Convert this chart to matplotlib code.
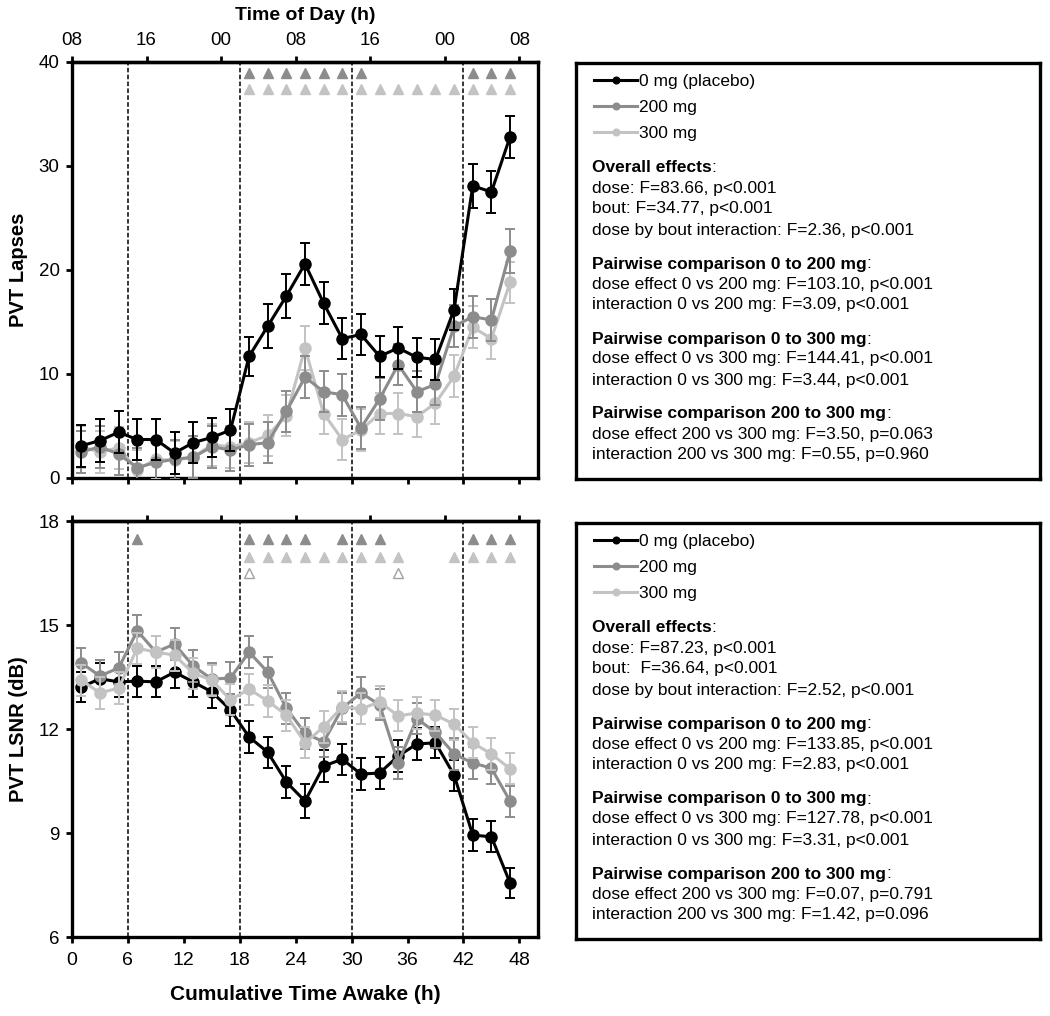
import numpy as np
import matplotlib
matplotlib.use('Agg')
import matplotlib.pyplot as plt

plt.rcParams['font.family'] = ['Liberation Sans', 'DejaVu Sans']

# cumulative hours awake (test bouts every 2 h)
hours = [1, 3, 5, 7, 9, 11, 13, 15, 17, 19, 21, 23, 25, 27, 29, 31, 33, 35, 37, 39, 41, 43, 45, 47]
dose_labels = ['0 mg (placebo)', '200 mg', '300 mg']

# PVT lapses (mean, SEM)
lapses_0 = [3.1, 3.6, 4.4, 3.7, 3.7, 2.4, 3.4, 3.9, 4.6, 11.7, 14.6, 17.5, 20.6, 16.8, 13.4, 13.8,
            11.7, 12.5, 11.6, 11.4, 16.2, 28.1, 27.5, 32.8]
lapses_200 = [2.5, 3.0, 2.3, 1.0, 1.5, 1.8, 2.0, 3.0, 2.7, 3.2, 3.4, 6.4, 9.7, 8.3, 8.0, 4.8,
              7.6, 10.9, 8.3, 9.0, 14.6, 15.5, 15.2, 21.8]
lapses_300 = [3.0, 2.5, 2.9, 0.8, 1.8, 1.7, 2.0, 3.2, 3.0, 3.4, 4.1, 6.0, 12.5, 6.2, 3.7, 4.6,
              6.2, 6.2, 5.9, 7.2, 9.8, 14.5, 13.4, 18.8]
lapses_0_sem = [2.0, 2.1, 2.0, 2.0, 2.0, 2.0, 2.0, 1.9, 2.0, 1.9, 2.1, 2.1, 2.0, 2.0, 2.0, 2.0,
                2.0, 2.0, 1.9, 2.0, 2.0, 2.1, 2.0, 2.0]
lapses_200_sem = [2.0, 2.0, 2.0, 1.9, 1.9, 1.9, 2.0, 2.0, 2.0, 2.0, 2.0, 2.0, 2.0, 2.0, 2.0, 2.0,
                  2.0, 2.0, 2.0, 2.0, 2.0, 2.0, 2.0, 2.1]
lapses_300_sem = [2.0, 2.0, 2.0, 1.9, 1.9, 1.9, 2.0, 2.0, 2.0, 2.0, 2.0, 2.0, 2.1, 2.0, 2.0, 2.0,
                  2.0, 2.0, 2.0, 2.0, 2.0, 2.0, 2.0, 2.0]

# PVT LSNR in dB (mean, SEM)
lsnr_0 = [13.21, 13.45, 13.36, 13.38, 13.36, 13.64, 13.36, 13.07, 12.55, 11.77, 11.33, 10.47,
          9.92, 10.93, 11.13, 10.70, 10.73, 11.22, 11.57, 11.60, 10.67, 8.94, 8.89, 7.56]
lsnr_200 = [13.90, 13.53, 13.76, 14.83, 14.22, 14.45, 13.82, 13.44, 13.47, 14.22, 13.64, 12.60,
            11.88, 11.63, 12.60, 13.04, 12.70, 11.02, 12.30, 11.90, 11.28, 11.02, 10.87, 9.92]
lsnr_300 = [13.41, 13.04, 13.18, 14.33, 14.22, 14.13, 13.61, 13.41, 12.84, 13.15, 12.81, 12.40,
            11.60, 12.06, 12.64, 12.58, 12.78, 12.38, 12.46, 12.40, 12.14, 11.60, 11.28, 10.85]
lsnr_0_sem = [0.42, 0.45, 0.45, 0.45, 0.45, 0.45, 0.45, 0.45, 0.45, 0.46, 0.45, 0.46,
              0.49, 0.45, 0.45, 0.45, 0.45, 0.45, 0.45, 0.45, 0.45, 0.46, 0.45, 0.43]
lsnr_200_sem = [0.45] * 24
lsnr_300_sem = [0.45] * 24

# significance markers (hours where pairwise comparison was significant)
sig_top_0v200 = [19, 21, 23, 25, 27, 29, 31, 43, 45, 47]
sig_top_0v300 = [19, 21, 23, 25, 27, 29, 31, 33, 35, 37, 39, 41, 43, 45, 47]
sig_bot_0v200 = [7, 19, 21, 23, 25, 29, 31, 33, 43, 45, 47]
sig_bot_0v300 = [19, 21, 23, 25, 27, 29, 31, 33, 35, 41, 43, 45, 47]
sig_bot_200v300 = [19, 35]

time_ticks = [0, 8, 16, 24, 32, 40, 48]
time_labels = ['08', '16', '00', '08', '16', '00', '08']

stats_top = [
    ('Overall effects', ['dose: F=83.66, p<0.001', 'bout: F=34.77, p<0.001',
                         'dose by bout interaction: F=2.36, p<0.001']),
    ('Pairwise comparison 0 to 200 mg', ['dose effect 0 vs 200 mg: F=103.10, p<0.001',
                                         'interaction 0 vs 200 mg: F=3.09, p<0.001']),
    ('Pairwise comparison 0 to 300 mg', ['dose effect 0 vs 300 mg: F=144.41, p<0.001',
                                         'interaction 0 vs 300 mg: F=3.44, p<0.001']),
    ('Pairwise comparison 200 to 300 mg', ['dose effect 200 vs 300 mg: F=3.50, p=0.063',
                                           'interaction 200 vs 300 mg: F=0.55, p=0.960']),
]
stats_bot = [
    ('Overall effects', ['dose: F=87.23, p<0.001', 'bout:  F=36.64, p<0.001',
                         'dose by bout interaction: F=2.52, p<0.001']),
    ('Pairwise comparison 0 to 200 mg', ['dose effect 0 vs 200 mg: F=133.85, p<0.001',
                                         'interaction 0 vs 200 mg: F=2.83, p<0.001']),
    ('Pairwise comparison 0 to 300 mg', ['dose effect 0 vs 300 mg: F=127.78, p<0.001',
                                         'interaction 0 vs 300 mg: F=3.31, p<0.001']),
    ('Pairwise comparison 200 to 300 mg', ['dose effect 200 vs 300 mg: F=0.07, p=0.791',
                                           'interaction 200 vs 300 mg: F=1.42, p=0.096']),
]

colors = ['black', '#8c8c8c', '#c3c3c3']
W, H = 1050, 1016


def fx(px):
    return px / W


def fy(py):
    return 1 - py / H


fig = plt.figure(figsize=(10.5, 10.16), dpi=100)
ax_top = fig.add_axes([fx(72), fy(478), 466 / W, 416 / H])
ax_bot = fig.add_axes([fx(72), fy(937), 466 / W, 416 / H])


def style_axes(ax, ylim, yticks, top_labels):
    ax.set_xlim(0, 50)
    ax.set_ylim(*ylim)
    ax.set_yticks(yticks)
    ax.set_xticks(range(0, 49, 6))
    for s in ax.spines.values():
        s.set_linewidth(2.4)
    ax.tick_params(direction='out', length=4, width=2, labelsize=13.5, pad=5)
    for xv in [6, 18, 30, 42]:
        ax.axvline(xv, color='black', lw=1.1, ls=(0, (3, 1.5)), zorder=1)
    sec = ax.secondary_xaxis('top')
    sec.set_xticks(time_ticks)
    sec.tick_params(direction='out', length=4, width=2, labelsize=13.5, pad=5)
    if top_labels:
        sec.set_xticklabels(time_labels)
    else:
        sec.set_xticklabels([])
    sec.spines['top'].set_linewidth(2.4)


def draw_series(ax, series, sems, order):
    handles = [None] * 3
    for z, i in enumerate(order):
        cont = ax.errorbar(hours, series[i], yerr=sems[i], color=colors[i], marker='o', ms=8,
                           lw=2.2, elinewidth=1.4, capsize=3.6, capthick=1.4, zorder=3 + z)
        handles[i] = cont[0]
    return handles


# top panel: PVT lapses
h_top = draw_series(ax_top, [lapses_0, lapses_200, lapses_300],
                    [lapses_0_sem, lapses_200_sem, lapses_300_sem], [2, 1, 0])
style_axes(ax_top, (0, 40), [0, 10, 20, 30, 40], True)
ax_top.set_xticklabels([])
ax_top.plot(sig_top_0v200, [38.9] * len(sig_top_0v200), ls='none', marker='^', ms=7,
            color=colors[1], clip_on=False)
ax_top.plot(sig_top_0v300, [37.4] * len(sig_top_0v300), ls='none', marker='^', ms=7,
            color=colors[2], clip_on=False)
ax_top.set_ylabel('PVT Lapses', fontsize=14.5, fontweight='bold')
ax_top.yaxis.set_label_coords((28 - 72) / 466, 0.5)

# bottom panel: PVT LSNR
h_bot = draw_series(ax_bot, [lsnr_0, lsnr_200, lsnr_300],
                    [lsnr_0_sem, lsnr_200_sem, lsnr_300_sem], [0, 1, 2])
style_axes(ax_bot, (6, 18), [6, 9, 12, 15, 18], False)
ax_bot.tick_params(axis='x', pad=7, labelsize=14)
ax_bot.plot(sig_bot_0v200, [17.48] * len(sig_bot_0v200), ls='none', marker='^', ms=7,
            color=colors[1], clip_on=False)
ax_bot.plot(sig_bot_0v300, [16.96] * len(sig_bot_0v300), ls='none', marker='^', ms=7,
            color=colors[2], clip_on=False)
ax_bot.plot(sig_bot_200v300, [16.5] * len(sig_bot_200v300), ls='none', marker='^', ms=7,
            markerfacecolor='white', markeredgecolor='#a0a0a0', markeredgewidth=1, clip_on=False)
ax_bot.set_ylabel('PVT LSNR (dB)', fontsize=14.5, fontweight='bold')
ax_bot.yaxis.set_label_coords((28 - 72) / 466, 0.5)

fig.text(fx(305), fy(15), 'Time of Day (h)', fontsize=14, fontweight='bold', ha='center', va='center')
fig.text(fx(305), fy(995), 'Cumulative Time Awake (h)', fontsize=15, fontweight='bold',
         ha='center', va='center')

# statistics boxes
renderer = fig.canvas.get_renderer()
for box_top, handles, stats in [(63, h_top, stats_top), (523, h_bot, stats_bot)]:
    bax = fig.add_axes([fx(576), fy(box_top + 416), 464 / W, 416 / H])
    bax.set_xticks([])
    bax.set_yticks([])
    for s in bax.spines.values():
        s.set_linewidth(2.4)
    bax.legend(handles, dose_labels, loc='upper left', frameon=False, fontsize=12.5,
               bbox_to_anchor=(fx(594), fy(box_top + 11)), bbox_transform=fig.transFigure,
               handlelength=2.5, handletextpad=0.1, labelspacing=0.62, markerscale=0.6,
               borderpad=0, borderaxespad=0)
    y = box_top + 105
    for head, lines in stats:
        t = fig.text(fx(592), fy(y), head, fontsize=12.5, fontweight='bold', va='center')
        bb = t.get_window_extent(renderer)
        fig.text(bb.x1 / W, fy(y), ':', fontsize=12.5, va='center')
        y += 20
        for ln in lines:
            fig.text(fx(592), fy(y), ln, fontsize=12.5, va='center')
            y += 21
        y += 13

fig.savefig('out.png', dpi=100)
